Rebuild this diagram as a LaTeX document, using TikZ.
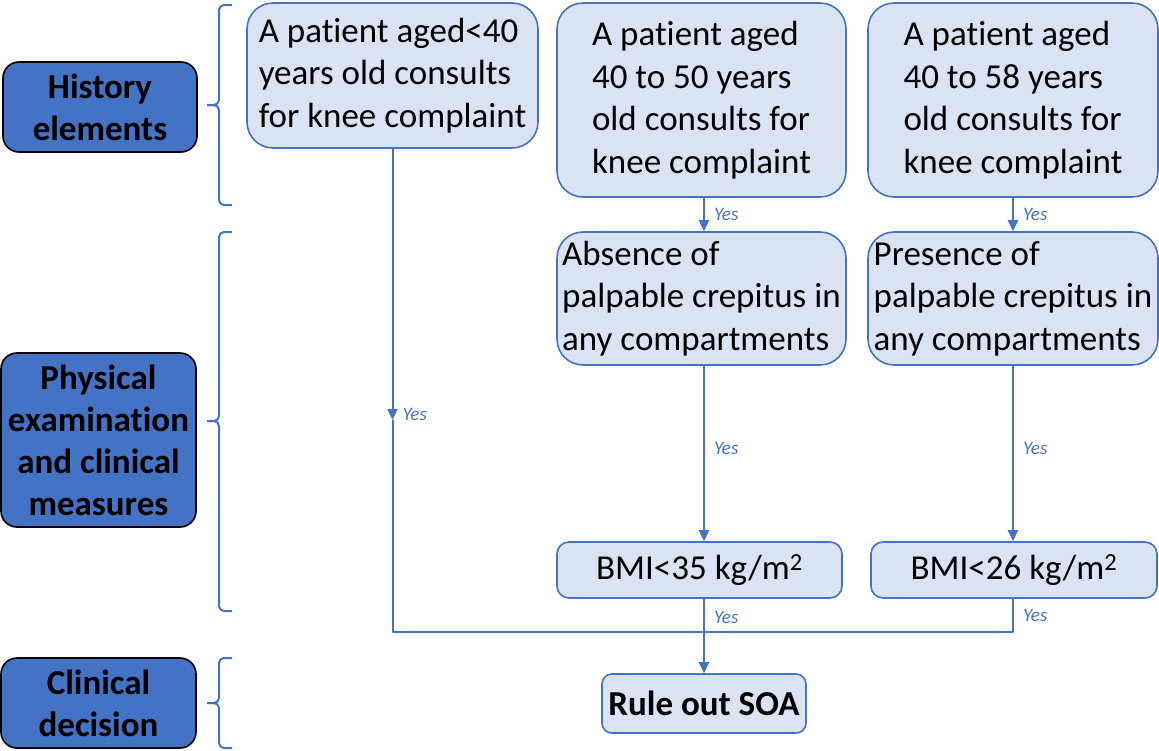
\documentclass[tikz,border=0pt]{standalone}
\usepackage{fontspec}
\setmainfont{Carlito}[Ligatures=NoCommon]
\usetikzlibrary{arrows.meta}
\definecolor{soBlue}{HTML}{4472C4}
\definecolor{soLight}{HTML}{DAE3F3}
\tikzset{
 chart/.style={x=1pt,y=-1pt,line join=round},
 stage/.style={rectangle,draw=black,fill=soBlue,line width=1.6pt,rounded corners=16pt,
   align=center,inner sep=0pt,font=\fontsize{35}{42}\selectfont\bfseries},
 crit/.style={rectangle,draw=soBlue,fill=soLight,line width=1.6pt,rounded corners=26pt,
   align=left,inner sep=0pt,font=\fontsize{35}{42.5}\selectfont},
 smallcrit/.style={crit,align=center,rounded corners=12pt},
 decision/.style={smallcrit,font=\fontsize{35}{42}\selectfont\bfseries,rounded corners=10pt},
 link/.style={draw=soBlue,line width=2pt},
 flow/.style={link,-{Triangle[length=11pt,width=10pt]}},
 yes/.style={font=\fontsize{19}{22}\selectfont\itshape,text=soBlue,inner sep=1pt,anchor=west,xshift=8pt},
 bracestroke/.style={draw=soBlue,line width=2pt,rounded corners=5pt}
}
\newcommand{\stageBrace}[3]{%
 \draw[bracestroke] (232,#1) -- (219,#1) -- (219,#3) -- (207,#3);
 \draw[bracestroke] (207,#3) -- (219,#3) -- (219,#2) -- (232,#2);}

\begin{document}
\begin{tikzpicture}[chart]
 \useasboundingbox (0,0) rectangle (1159,750);
 % stages on the left
 \node[stage,minimum width=194pt,minimum height=90pt] (hist) at (100,107) {History\\elements};
 \node[stage,minimum width=195pt,minimum height=174pt] (phys) at (98.5,440) {Physical\\examination\\and clinical\\measures};
 \node[stage,minimum width=195pt,minimum height=90pt] (clin) at (98.5,703) {Clinical\\decision};
 \stageBrace{5}{205}{105}
 \stageBrace{232}{611}{421}
 \stageBrace{658}{748}{703}
 % criteria
 \node[crit,minimum width=291pt,minimum height=145pt] (age1) at (392.5,75.5) {A patient aged<40\\years old consults\\for knee complaint};
 \node[crit,minimum width=289pt,minimum height=194pt] (age2) at (701.5,100) {A patient aged\\40 to 50 years\\old consults for\\knee complaint};
 \node[crit,minimum width=290pt,minimum height=194pt] (age3) at (1013,100) {A patient aged\\40 to 58 years\\old consults for\\knee complaint};
 \node[crit,minimum width=289pt,minimum height=133pt] (crep1) at (701.5,298.5) {Absence of\\palpable crepitus in\\any compartments};
 \node[crit,minimum width=290pt,minimum height=133pt] (crep2) at (1013,298.5) {Presence of\\palpable crepitus in\\any compartments};
 \node[smallcrit,minimum width=285pt,minimum height=56pt] (bmi1) at (699.5,570) {BMI<35 kg/m\textsuperscript{2}};
 \node[smallcrit,minimum width=286pt,minimum height=56pt] (bmi2) at (1014,570) {BMI<26 kg/m\textsuperscript{2}};
 \node[decision,minimum width=204pt,minimum height=59pt] (soa) at (704,703.5) {Rule out SOA};
 % connectors
 \coordinate (colA) at (704,0);
 \coordinate (colB) at (1013,0);
 \coordinate (mid) at (age1.south |- 0,420);
 \coordinate (low) at (0,632);
 \draw[flow] (colA |- age2.south) -- node[yes]{Yes} (colA |- crep1.north);
 \draw[flow] (colB |- age3.south) -- node[yes]{Yes} (colB |- crep2.north);
 \draw[flow] (colA |- crep1.south) -- node[yes,pos=.47]{Yes} (colA |- bmi1.north);
 \draw[flow] (colB |- crep2.south) -- node[yes,pos=.47]{Yes} (colB |- bmi2.north);
 \draw[flow] (age1.south) -- node[yes,pos=.98]{Yes} (mid);
 \draw[link] (mid) -- (mid |- low) -- (colB |- low) -- node[yes,pos=.5]{Yes} (colB |- bmi2.south);
 \draw[flow] (colA |- bmi1.south) -- node[yes,pos=.25]{Yes} (soa.north);
\end{tikzpicture}
\end{document}
